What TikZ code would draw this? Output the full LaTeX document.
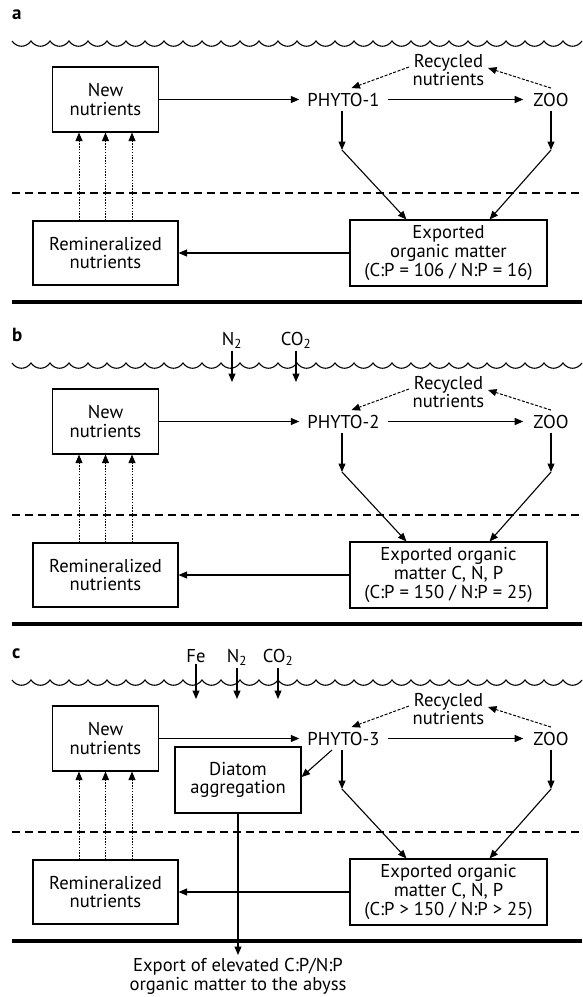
\documentclass[tikz,border=0pt]{standalone}
\usepackage{fontspec}
\setmainfont{PT Sans}
\usetikzlibrary{arrows.meta}
\newcommand\mytext{\fontsize{18.6}{18.6}\selectfont}
\tikzset{
  x=1pt, y=-1pt,
  tip/.style={-{Triangle[length=8.5pt,width=7pt]}},
  box/.style={draw, line width=1.1pt, minimum height=65pt, align=center, inner sep=0pt, font=\mytext},
  txt/.style={inner xsep=8pt, inner ysep=4.5pt, font=\mytext},
  lab/.style={anchor=base west, inner sep=0pt, font=\fontsize{19}{19}\selectfont\bfseries},
  gas/.style={anchor=base, inner xsep=1pt, inner ysep=2pt, font=\mytext},
  arr/.style={tip, line width=1.1pt},
  dots/.style={tip, line width=0.9pt, dash pattern=on 1.4pt off 1.4pt},
  recyc/.style={tip, line width=1pt, dash pattern=on 3pt off 1.6pt},
  wave/.style={line width=1.1pt},
  sea/.style={line width=1.1pt, dash pattern=on 8pt off 5pt},
  floor/.style={line width=3.2pt},
}
% #1 suffix, #2 y offset, #3 label, #4 phyto text, #5 exported text
\newcommand\mypanel[5]{%
\begin{scope}[yshift=-#2pt]
  \node[lab] (lab#1) at (12,19) {#3};
  \draw[wave] (12,41) \foreach \i in {0,...,29}{ .. controls ({17+19*\i},48) and ({26+19*\i},48) .. ({31+19*\i},41)};
  \draw[sea] (12,193) -- (582,193);
  \draw[floor] (12,302) -- (582,302);
  \node[box, minimum width=106pt] (new#1) at (105.5,99.5) {New\\nutrients};
  \node[box, minimum width=145pt, minimum height=64pt] (rem#1) at (105.5,253) {Remineralized\\nutrients};
  \node[box, minimum width=197pt, minimum height=66pt] (exp#1) at (448.5,253) {#5};
  \node[txt] (phy#1) at (343.5,99.5) {#4};
  \node[txt, inner xsep=10pt] (zoo#1) at (551,99.5) {ZOO};
  \node[txt, align=center, inner sep=3.5pt] (rec#1) at (448.5,70) {Recycled\\nutrients};
  \coordinate (pk#1) at (342,150);
  \coordinate (zk#1) at (551,150);
  \draw[arr] (new#1) -- (phy#1);
  \draw[arr] (phy#1) -- (zoo#1);
  \draw[arr] (pk#1 |- phy#1.south) -- (pk#1);
  \draw[arr] (zk#1 |- zoo#1.south) -- (zk#1);
  \draw[arr] (pk#1) -- ([xshift=57pt]exp#1.north west);
  \draw[arr] (zk#1) -- ([xshift=-58pt]exp#1.north east);
  \draw[arr] (exp#1) -- (rem#1);
  \foreach \dx in {-26.5,0,26.5} \draw[dots] ([xshift=\dx pt]rem#1.north) -- ([xshift=\dx pt]new#1.south);
  \draw[recyc] ([yshift=3pt]rec#1.west) -- ([xshift=8pt]phy#1.north);
  \draw[recyc] (zoo#1.north) -- ([yshift=2pt]rec#1.east);
\end{scope}}
\begin{document}
\begin{tikzpicture}
\useasboundingbox (0,0) rectangle (582,997);
\fill[white] (0,0) rectangle (582,997);
\mypanel{a}{0}{a}{PHYTO-1}{Exported\\organic matter\\(C:P = 106 / N:P = 16)}
\mypanel{b}{322}{b}{PHYTO-2}{Exported organic\\matter C, N, P\\(C:P = 150 / N:P = 25)}
\mypanel{c}{639}{c}{PHYTO-3}{Exported organic\\matter C, N, P\\(C:P > 150 / N:P > 25)}
% panel b gases
\begin{scope}[yshift=-322pt]
  \node[gas] (n2b) at (232,23) {N\textsubscript{2}};
  \node[gas] (co2b) at (296,23) {CO\textsubscript{2}};
  \coordinate (n2bt) at (232,60);
  \coordinate (co2bt) at (296,60);
  \draw[arr] (n2b) -- (n2bt);
  \draw[arr] (co2b) -- (co2bt);
\end{scope}
% panel c gases and diatoms
\begin{scope}[yshift=-639pt]
  \node[gas] (fec) at (196,23) {Fe};
  \node[gas] (n2c) at (237,23) {N\textsubscript{2}};
  \node[gas] (co2c) at (278,23) {CO\textsubscript{2}};
  \coordinate (fect) at (196,60);
  \coordinate (n2ct) at (237,60);
  \coordinate (co2ct) at (278,60);
  \draw[arr] (fec) -- (fect);
  \draw[arr] (n2c) -- (n2ct);
  \draw[arr] (co2c) -- (co2ct);
  \node[box, minimum width=126pt, minimum height=66pt] (dia) at (238,141) {Diatom\\aggregation};
  \draw[arr] ([xshift=-11.5pt]phyc.south) -- ([yshift=3pt]dia.east);
  \node[txt, anchor=north, align=center, inner sep=3.5pt] (aby) at (238,316) {Export of elevated C:P/N:P\\organic matter to the abyss};
  \draw[arr] (dia.south) -- (aby.north);
\end{scope}
\end{tikzpicture}
\end{document}
